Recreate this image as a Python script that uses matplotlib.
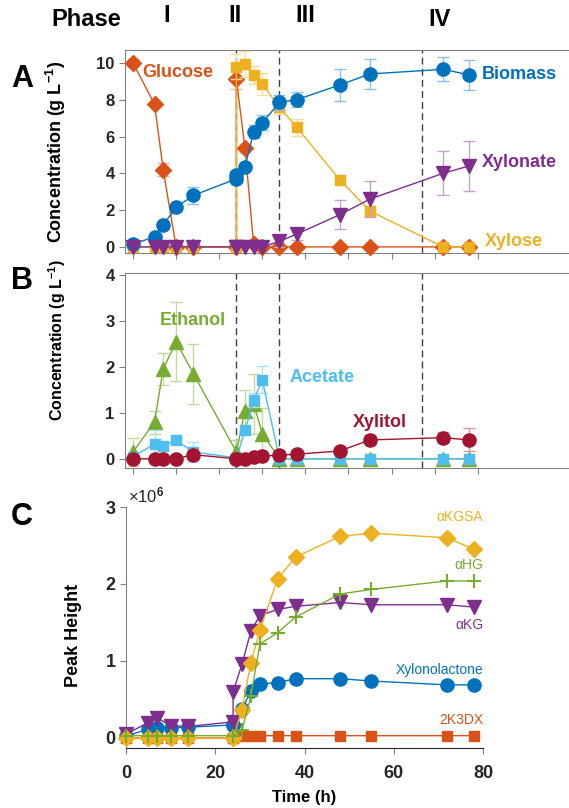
import numpy as np
import matplotlib
matplotlib.use("Agg")
import matplotlib.pyplot as plt
from matplotlib.colors import to_rgb

plt.rcParams["font.family"] = ["Liberation Sans", "DejaVu Sans"]
plt.rcParams["mathtext.fontset"] = "custom"
plt.rcParams["mathtext.rm"] = "Liberation Sans:bold"
plt.rcParams["mathtext.bf"] = "Liberation Sans:bold"
plt.rcParams["mathtext.it"] = "Liberation Sans:bold"

# sampling times (h); two samples at 24 h, before and after the xylose/glucose feed
time_h = [0, 5, 7, 10, 14, 24, 24, 26, 28, 30, 34, 38, 48, 55, 72, 78]

# panel A, g/L
glucose = [10.0, 7.75, 4.2, 0, 0, 0, 9.1, 5.35, 0.15, 0, 0, 0, 0, 0, 0, 0]
glucose_err = [0.2, 0, 0.35, 0, 0, 0, 0.5, 0.2, 0, 0, 0, 0, 0, 0, 0, 0]
xylose = [0, 0, 0, 0, 0, 0, 9.8, 9.95, 9.35, 8.85, 7.6, 6.5, 3.65, 1.95, 0, 0]
xylose_err = [0, 0, 0, 0, 0, 0, 0.7, 0.7, 0.5, 0.6, 0.4, 0.45, 0.15, 0.25, 0, 0]
biomass = [0.15, 0.55, 1.2, 2.15, 2.8, 3.7, 3.9, 4.35, 6.25, 6.75, 7.85, 8.0, 8.8, 9.4, 9.65, 9.35]
biomass_err = [0.1, 0.1, 0.1, 0.15, 0.45, 0.2, 0.2, 0.1, 0.35, 0.4, 0.4, 0.4, 0.85, 0.8, 0.65, 0.8]
xylonate = [0, 0, 0, 0, 0, 0, 0, 0, 0, 0, 0.3, 0.7, 1.75, 2.6, 4.0, 4.4]
xylonate_err = [0, 0, 0, 0, 0, 0, 0, 0, 0, 0, 0.3, 0.35, 0.8, 1.0, 1.2, 1.35]

# panel B, g/L
ethanol = [0.15, 0.8, 1.95, 2.55, 1.85, 0.15, 0.15, 1.05, 1.2, 0.55, 0, 0, 0, 0, 0, 0]
ethanol_err = [0.3, 0.25, 0.35, 0.85, 0.65, 0.25, 0.25, 0.45, 0.65, 0.55, 0, 0, 0, 0, 0, 0]
acetate = [0.05, 0.32, 0.27, 0.4, 0.15, 0.02, 0.02, 0.62, 1.27, 1.72, 0, 0, 0, 0, 0, 0]
acetate_err = [0, 0.3, 0.1, 0.05, 0.22, 0, 0, 0.05, 0.15, 0.3, 0, 0, 0, 0, 0, 0]
xylitol = [0, 0, 0, 0, 0.09, 0, 0, 0, 0.03, 0.06, 0.08, 0.1, 0.17, 0.41, 0.46, 0.41]
xylitol_err = [0, 0, 0, 0, 0.12, 0, 0, 0, 0, 0, 0, 0, 0.07, 0.1, 0.12, 0.25]

# panel C, peak height in units of 1e6
kgsa = [0, 0, 0, 0, 0, 0, 0, 0.37, 0.98, 1.4, 2.07, 2.35, 2.62, 2.66, 2.6, 2.45]
ahg = [0.03, 0.03, 0.03, 0.03, 0.03, 0.03, 0.03, 0.1, 0.55, 1.22, 1.37, 1.57, 1.87, 1.93, 2.04, 2.04]
akg = [0.05, 0.2, 0.26, 0.16, 0.15, 0.21, 0.6, 0.96, 1.39, 1.59, 1.67, 1.71, 1.76, 1.73, 1.73, 1.7]
lactone = [0.02, 0.12, 0.13, 0.13, 0.14, 0.17, 0.17, 0.38, 0.61, 0.7, 0.72, 0.77, 0.77, 0.74, 0.69, 0.69]
k3dx = [0, 0, 0, 0, 0, 0, 0, 0.02, 0.02, 0.03, 0.03, 0.03, 0.03, 0.03, 0.03, 0.03]

phase_bounds = [24, 34, 67]
phase_names = ["I", "II", "III", "IV"]

BLUE = "#0072BD"
ORANGE = "#D95319"
YELLOW = "#EDB120"
PURPLE = "#7E2F8E"
GREEN = "#77AC30"
CYAN = "#4DBEEE"
RED = "#A2142F"
SPINE = "#808080"
TICKTXT = "#262626"

W, H = 569, 808


def frac(x, y):
    return x / W, 1 - y / H


def light(c, k=0.55):
    r, g, b = to_rgb(c)
    return (r + (1 - r) * k, g + (1 - g) * k, b + (1 - b) * k)


def series(ax, y, err, color, marker, ms, z):
    t = np.array(time_h, dtype=float)
    y = np.array(y, dtype=float)
    err = np.array(err, dtype=float)
    m = err > 0
    if m.any():
        ax.errorbar(t[m], y[m], yerr=err[m], fmt="none", ecolor=light(color),
                    elinewidth=1.0, capsize=4, capthick=1.0, zorder=z - 0.5)
    ax.plot(t, y, color=color, lw=1.0, marker=marker, ms=ms, mfc=color,
            mec=color, zorder=z, clip_on=False)


def style(ax, ticksize=12, xpad=3.5):
    for s in ax.spines.values():
        s.set_color(SPINE)
        s.set_linewidth(0.8)
    ax.tick_params(direction="out", length=4, width=0.8, color=SPINE,
                   labelsize=ticksize, labelcolor=TICKTXT)
    ax.tick_params(axis="x", pad=xpad)
    for lbl in ax.get_yticklabels() + ax.get_xticklabels():
        lbl.set_fontweight("bold")


fig = plt.figure(figsize=(W / 100, H / 100), dpi=100)

# ---- A: sugars, biomass, xylonate
x0, y0 = frac(125, 253)
axA = fig.add_axes([x0, y0, 1 - x0, 203 / H])
series(axA, glucose, glucose_err, ORANGE, "D", 8, 3)
series(axA, xylose, xylose_err, YELLOW, "s", 7.5, 4)
series(axA, biomass, biomass_err, BLUE, "o", 9.5, 5)
series(axA, xylonate, xylonate_err, PURPLE, "v", 9.5, 6)
axA.set_xlim(-1.86, 101.2)
axA.set_ylim(-0.33, 10.7)
axA.set_yticks([0, 2, 4, 6, 8, 10])
axA.set_xticks(np.arange(0, 81, 10))
axA.set_xticklabels([])
axA.spines["right"].set_visible(False)
style(axA)
axA.set_ylabel("Concentration (g L$^{-1}$)", fontsize=13, fontweight="bold")
axA.yaxis.set_label_coords(-0.128, 0.5)
axA.text(2.1, 9.5, "Glucose", color=ORANGE, fontsize=13, fontweight="bold", va="center")
axA.text(81, 9.35, "Biomass", color=BLUE, fontsize=13, fontweight="bold", va="center")
axA.text(81, 4.6, "Xylonate", color=PURPLE, fontsize=13, fontweight="bold", va="center")
axA.text(81.7, 0.27, "Xylose", color=YELLOW, fontsize=13, fontweight="bold", va="center")

# ---- B: by-products
x0, y0 = frac(125, 468)
axB = fig.add_axes([x0, y0, 1 - x0, 195 / H])
series(axB, ethanol, ethanol_err, GREEN, "^", 9.5, 3)
series(axB, acetate, acetate_err, CYAN, "s", 7.5, 4)
series(axB, xylitol, xylitol_err, RED, "o", 9.5, 5)
axB.set_xlim(-1.86, 101.2)
axB.set_ylim(-0.2, 4.04)
axB.set_yticks([0, 1, 2, 3, 4])
axB.set_xticks(np.arange(0, 81, 10))
axB.set_xticklabels([])
axB.spines["right"].set_visible(False)
style(axB)
axB.set_ylabel("Concentration (g L$^{-1}$)", fontsize=11.5, fontweight="bold")
axB.yaxis.set_label_coords(-0.128, 0.656)
axB.text(6.3, 3.0, "Ethanol", color=GREEN, fontsize=13, fontweight="bold", va="center")
axB.text(36.4, 1.76, "Acetate", color=CYAN, fontsize=13, fontweight="bold", va="center")
axB.text(51, 0.8, "Xylitol", color=RED, fontsize=13, fontweight="bold", va="center")

for ax in (axA, axB):
    for t in phase_bounds:
        ax.axvline(t, color="#404040", lw=1.0, ls=(0, (5, 3)), zorder=2)

# ---- C: metabolite peak heights
x0, y0 = frac(126, 748)
axC = fig.add_axes([x0, y0, 357 / W, 241 / H])
series(axC, lactone, [0] * 16, BLUE, "o", 9.5, 3)
series(axC, k3dx, [0] * 16, ORANGE, "s", 6.5, 4)
series(axC, akg, [0] * 16, PURPLE, "v", 9.5, 5)
series(axC, kgsa, [0] * 16, YELLOW, "D", 8.5, 6)
axC.plot(time_h, ahg, color=GREEN, lw=1.0, marker="+", ms=10, mew=1.5,
         zorder=7, clip_on=False)
axC.set_xlim(0, 80)
axC.set_ylim(-0.13, 3.0)
axC.set_xticks([0, 20, 40, 60, 80])
axC.set_yticks([0, 1, 2, 3])
axC.spines["top"].set_visible(False)
axC.spines["right"].set_visible(False)
style(axC, ticksize=13, xpad=8)
axC.spines["bottom"].set_color("#262626")
axC.set_ylabel("Peak Height", fontsize=13, fontweight="bold")
axC.yaxis.set_label_coords(-0.123, 0.469)
axC.set_xlabel("Time (h)", fontsize=12, fontweight="bold", labelpad=6)
axC.text(0.005, 1.005, "×10$^{6}$", transform=axC.transAxes, fontsize=12,
         color=TICKTXT, ha="left", va="bottom")
c_labels = [("αKGSA", 2.87, YELLOW), ("αHG", 2.25, GREEN), ("αKG", 1.47, PURPLE),
            ("Xylonolactone", 0.88, BLUE), ("2K3DX", 0.23, ORANGE)]
for name, yv, col in c_labels:
    axC.text(80, yv, name, color=col, fontsize=10, ha="right", va="center")

# ---- panel letters and phase header
for letter, (px, py) in zip("ABC", [(22, 79), (22, 281), (22, 517)]):
    fig.text(*frac(px, py), letter, fontsize=22, fontweight="bold", ha="center", va="center")
fig.text(*frac(86, 20), "Phase", fontsize=17, fontweight="bold", ha="center", va="center")
for name, px, py in zip(phase_names, [167, 235, 305, 440], [15, 16, 15, 20]):
    fig.text(*frac(px, py), name, fontsize=17, fontweight="bold", ha="center", va="center")

fig.savefig("out.png", dpi=100)
